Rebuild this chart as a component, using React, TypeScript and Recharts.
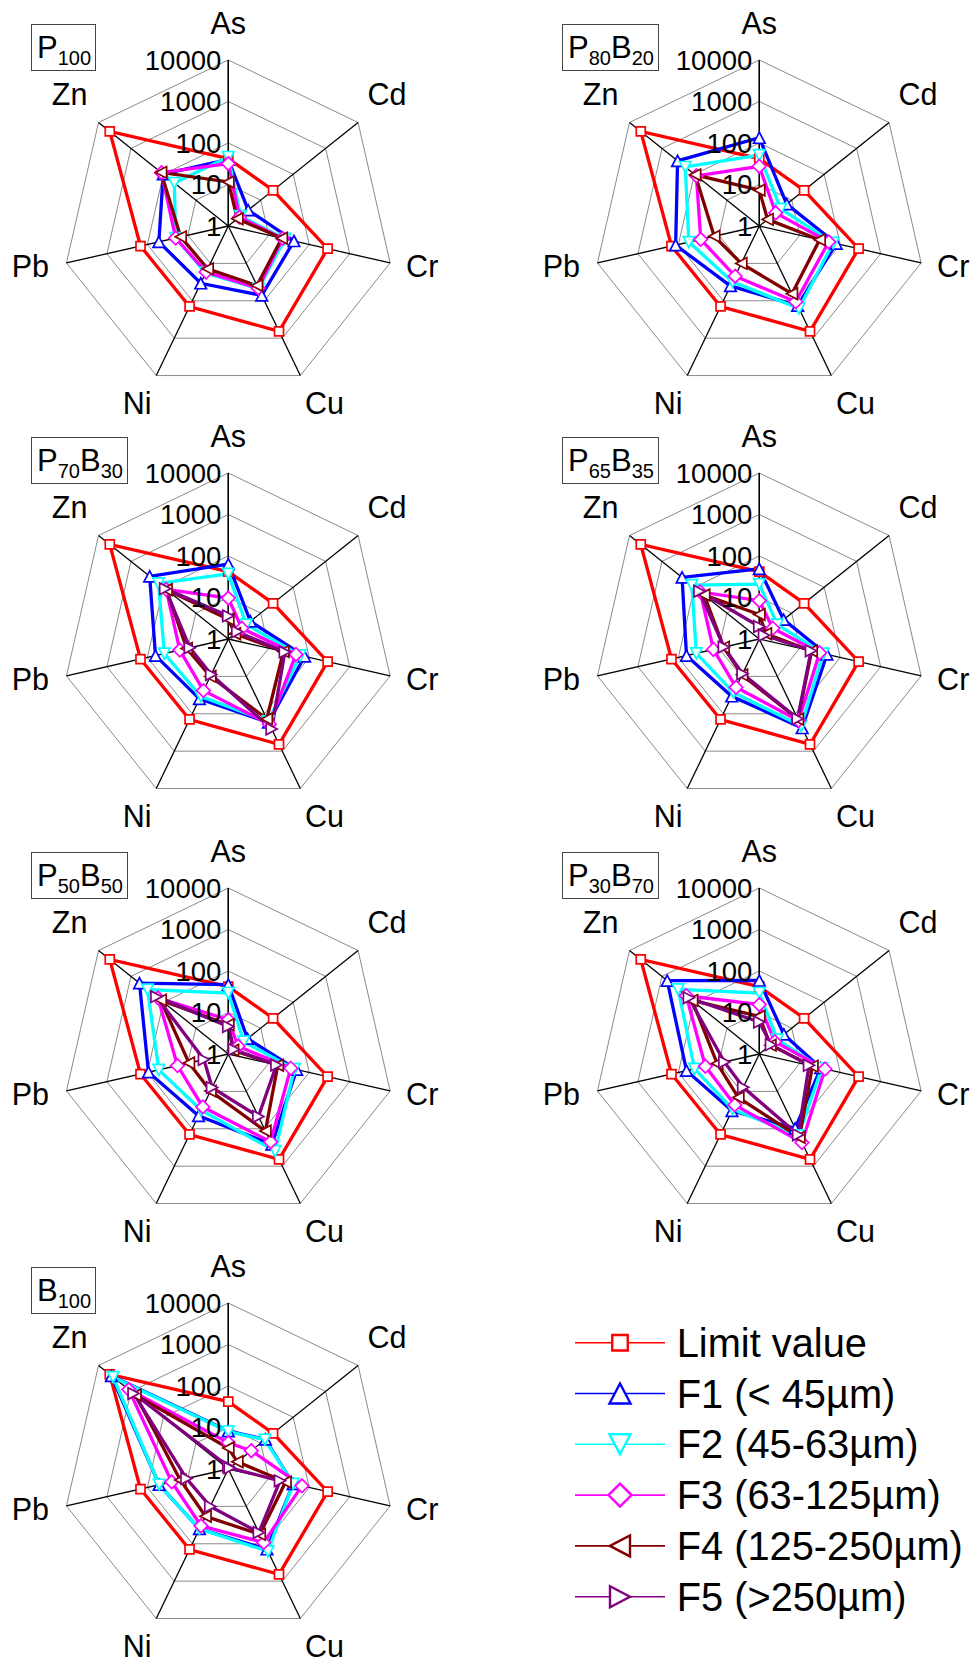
import React from 'react';
import { RadarChart, Radar, PolarGrid, PolarAngleAxis, PolarRadiusAxis } from 'recharts';

// ---------- data ----------
const elements = ['As', 'Cd', 'Cr', 'Cu', 'Ni', 'Pb', 'Zn'];
const radiusTickLabels = ['1', '10', '100', '1000', '10000'];

const limitValue = [42, 24, 285, 655, 142, 148, 4500];

const p100F1 = [40, 4.1, 42, 72, 34, 52, 101];
const p100F2 = [46, 2.4, 25, 48, 18, 20, 46];
const p100F3 = [32, 2.2, 22, 46, 17, 20, 115];
const p100F4 = [11.5, 1.9, 21, 39, 14, 15, 118];

const p80b20F1 = [134, 7, 80, 135, 40, 117, 330];
const p80b20F2 = [51, 4.6, 67, 160, 31, 55, 191];
const p80b20F3 = [27.5, 3.2, 52, 106, 22, 28, 87];
const p80b20F4 = [7.3, 1.8, 31, 65, 10, 13, 95];

const p70b30F1 = [64, 4.8, 77, 170, 40, 63, 265];
const p70b30F2 = [37, 3.6, 60, 160, 34, 38, 142];
const p70b30F3 = [9.7, 2.6, 47, 190, 24, 15.8, 82];
const p70b30F4 = [3, 1.6, 23, 137, 10, 10.7, 80];
const p70b30F5 = [3.6, 1.9, 25, 256, 8.9, 8.9, 88];

const p65b35F1 = [49, 5.6, 47, 240, 34, 63, 240];
const p65b35F2 = [21, 3.6, 38, 210, 27, 36, 120];
const p65b35F3 = [8.4, 2.6, 31, 152, 19.6, 13.6, 66];
const p65b35F4 = [3.9, 1.6, 19.7, 139, 9.1, 7.6, 50];
const p65b35F5 = [2, 1.4, 19, 135, 8.5, 7.5, 70];

const p50b50F1 = [47, 3.9, 49, 262, 45, 94, 546];
const p50b50F2 = [29.5, 3, 43, 395, 32, 52, 309];
const p50b50F3 = [6.7, 2, 35, 223, 26, 18, 147];
const p50b50F4 = [5.1, 1.4, 16.7, 115, 9.8, 9.4, 121];
const p50b50F5 = [4.6, 1.5, 15.5, 47, 7.9, 4, 164];

const p30b70F1 = [59, 5.7, 33, 98, 33, 63, 690];
const p30b70F2 = [29.5, 3.6, 35, 150, 30, 40, 316];
const p30b70F3 = [15.5, 3, 42, 234, 23, 21.5, 178];
const p30b70F4 = [8.1, 2.2, 20.6, 168, 14.6, 11, 118];
const p30b70F5 = [5.9, 2.3, 17, 145, 7.8, 7.3, 148];

const b100F1 = [8.2, 14, 40, 140, 40, 51, 4000];
const b100F2 = [8, 13.5, 40, 159, 40, 51, 3550];
const b100F3 = [4.3, 5.1, 66, 93, 33, 25, 1170];
const b100F4 = [3.2, 1.9, 26, 56, 18.4, 15.4, 725];
const b100F5 = [1.15, 1.1, 19, 50, 10, 10.8, 830];

const seriesMeta = [
  { key: 'limit', name: 'Limit value', color: '#ff0000', shape: 'square' },
  { key: 'f1', name: 'F1 (< 45\u00b5m)', color: '#0000ff', shape: 'up' },
  { key: 'f2', name: 'F2 (45-63\u00b5m)', color: '#00ffff', shape: 'down' },
  { key: 'f3', name: 'F3 (63-125\u00b5m)', color: '#ff00ff', shape: 'diamond' },
  { key: 'f4', name: 'F4 (125-250\u00b5m)', color: '#800000', shape: 'left' },
  { key: 'f5', name: 'F5 (>250\u00b5m)', color: '#800080', shape: 'right' },
];

const panels = [
  { title: [['P', '100']], series: { limit: limitValue, f1: p100F1, f2: p100F2, f3: p100F3, f4: p100F4 } },
  { title: [['P', '80'], ['B', '20']], series: { limit: limitValue, f1: p80b20F1, f2: p80b20F2, f3: p80b20F3, f4: p80b20F4 } },
  { title: [['P', '70'], ['B', '30']], series: { limit: limitValue, f1: p70b30F1, f2: p70b30F2, f3: p70b30F3, f4: p70b30F4, f5: p70b30F5 } },
  { title: [['P', '65'], ['B', '35']], series: { limit: limitValue, f1: p65b35F1, f2: p65b35F2, f3: p65b35F3, f4: p65b35F4, f5: p65b35F5 } },
  { title: [['P', '50'], ['B', '50']], series: { limit: limitValue, f1: p50b50F1, f2: p50b50F2, f3: p50b50F3, f4: p50b50F4, f5: p50b50F5 } },
  { title: [['P', '30'], ['B', '70']], series: { limit: limitValue, f1: p30b70F1, f2: p30b70F2, f3: p30b70F3, f4: p30b70F4, f5: p30b70F5 } },
  { title: [['B', '100']], series: { limit: limitValue, f1: b100F1, f2: b100F2, f3: b100F3, f4: b100F4, f5: b100F5 } },
];

// ---------- layout ----------
const FONT = '"Liberation Sans", Arial, Helvetica, sans-serif';
const CHART_W = 443;
const CHART_H = 440;
const CX = 228.3;
const CY = 226;
const OUTER_R = 166;
const LABEL_R = 203;
const COL_LEFT = [0, 531];
const ROW_TOP = [0, 413, 828, 1243];
const LABEL_NUDGE_X: Record<string, number> = { Cu: 8, Ni: -3, Cr: -4 };

function markerPath(shape: string, x: number, y: number, s: number): string {
  const h = s / 2;
  switch (shape) {
    case 'square':
      return `M${x - h},${y - h}h${s}v${s}h${-s}Z`;
    case 'up':
      return `M${x},${y - h}L${x + h * 1.05},${y + h}L${x - h * 1.05},${y + h}Z`;
    case 'down':
      return `M${x},${y + h}L${x + h * 1.05},${y - h}L${x - h * 1.05},${y - h}Z`;
    case 'left':
      return `M${x - h},${y}L${x + h},${y - h * 1.05}L${x + h},${y + h * 1.05}Z`;
    case 'right':
      return `M${x + h},${y}L${x - h},${y - h * 1.05}L${x - h},${y + h * 1.05}Z`;
    case 'diamond':
      return `M${x},${y - h}L${x + h},${y}L${x},${y + h}L${x - h},${y}Z`;
    default:
      return '';
  }
}

const chartMarkerSize: Record<string, number> = { square: 9, up: 11, down: 11, left: 11, right: 11, diamond: 13.5 };
const legendMarkerSize: Record<string, number> = { square: 15.5, up: 20, down: 20, left: 20, right: 20, diamond: 23 };

const makeDot = (shape: string, color: string) => (props: any) => {
  const { cx, cy, index } = props;
  if (cx == null || cy == null || isNaN(cx) || isNaN(cy)) return <g key={`e${index}`} />;
  return (
    <path
      key={`m${index}`}
      d={markerPath(shape, cx, cy, chartMarkerSize[shape])}
      fill="#ffffff"
      stroke={color}
      strokeWidth={1.7}
    />
  );
};

const AngleTick = (props: any) => {
  const { x, y, payload } = props;
  const cx = props.cx ?? CX;
  const cy = props.cy ?? CY;
  const dx = x - cx;
  const dy = y - cy;
  const len = Math.hypot(dx, dy) || 1;
  const ux = dx / len;
  const uy = dy / len;
  const lift = uy < -0.99 ? 0 : -5.5;
  const nudge = LABEL_NUDGE_X[payload.value] ?? 0;
  return (
    <text
      x={cx + ux * LABEL_R + nudge}
      y={cy + uy * LABEL_R + lift}
      textAnchor="middle"
      dominantBaseline="central"
      fontSize={30.5}
      fontFamily={FONT}
      fill="#000"
    >
      {payload.value}
    </text>
  );
};

const RadiusTick = (props: any) => {
  const { x, y, payload } = props;
  const label = radiusTickLabels[Math.round(payload.value)];
  return (
    <text x={x - 7} y={y} textAnchor="end" dominantBaseline="central" fontSize={27.5} fontFamily={FONT} fill="#000">
      {label}
    </text>
  );
};

function buildRows(series: Record<string, number[]>) {
  return elements.map((el, i) => {
    const row: any = { element: el };
    Object.keys(series).forEach((k) => {
      const v = series[k][i];
      row[k] = Math.max(0, Math.log10(v));
    });
    return row;
  });
}

function Panel({ panel, left, top }: { panel: any; left: number; top: number }) {
  const rows = buildRows(panel.series);
  const keys = seriesMeta.filter((m) => panel.series[m.key]);
  return (
    <div style={{ position: 'absolute', left, top, width: CHART_W, height: CHART_H }}>
      <RadarChart
        width={CHART_W}
        height={CHART_H}
        data={rows}
        cx={CX}
        cy={CY}
        outerRadius={OUTER_R}
        margin={{ top: 0, right: 0, bottom: 0, left: 0 }}
      >
        <PolarGrid gridType="polygon" radialLines={false} stroke="#8a8a8a" strokeWidth={1} />
        <PolarGrid gridType="polygon" polarRadius={[]} stroke="#000000" strokeWidth={1.3} />
        <PolarAngleAxis dataKey="element" axisLine={false} tickLine={false} tick={<AngleTick />} />
        <PolarRadiusAxis
          angle={90}
          type="number"
          domain={[0, 4]}
          tickCount={5}
          axisLine={{ stroke: '#000', strokeWidth: 1.3 }}
          tickLine={false}
          tick={<RadiusTick />}
        />
        {keys.map((m) => (
          <Radar
            key={m.key}
            name={m.name}
            dataKey={m.key}
            stroke={m.color}
            strokeWidth={3.3}
            fill="none"
            fillOpacity={0}
            dot={makeDot(m.shape, m.color)}
            isAnimationActive={false}
          />
        ))}
      </RadarChart>
      <div
        style={{
          position: 'absolute',
          left: 31,
          top: 24,
          height: 47,
          lineHeight: '46px',
          padding: '0 4px 0 5px',
          border: '1px solid #444',
          fontFamily: FONT,
          fontSize: 31,
          whiteSpace: 'nowrap',
          background: '#fff',
          boxSizing: 'border-box',
        }}
      >
        {panel.title.map((part: string[], i: number) => (
          <span key={i}>
            {part[0]}
            <span style={{ fontSize: 20, verticalAlign: '-7px', lineHeight: 0 }}>{part[1]}</span>
          </span>
        ))}
      </div>
    </div>
  );
}

function Legend() {
  const top = 1310;
  const rowY0 = 32.7;
  const rowStep = 50.8;
  return (
    <svg style={{ position: 'absolute', left: 560, top }} width={414} height={330}>
      {seriesMeta.map((m, i) => {
        const y = rowY0 + rowStep * i;
        return (
          <g key={m.key}>
            <line x1={15} x2={105} y1={y} y2={y} stroke={m.color} strokeWidth={1.6} />
            <path
              d={markerPath(m.shape, 60, y, legendMarkerSize[m.shape])}
              fill="#fff"
              stroke={m.color}
              strokeWidth={2.4}
            />
            <text x={116.7} y={y + 14} fontSize={39.8} fontFamily={FONT} fill="#000">
              {m.name}
            </text>
          </g>
        );
      })}
    </svg>
  );
}

export default function App() {
  return (
    <div style={{ position: 'absolute', left: 0, top: 0, width: 974, height: 1664, background: '#fff', overflow: 'hidden' }}>
      {panels.map((p, i) => (
        <Panel key={i} panel={p} left={COL_LEFT[i % 2]} top={ROW_TOP[Math.floor(i / 2)]} />
      ))}
      <Legend />
    </div>
  );
}
